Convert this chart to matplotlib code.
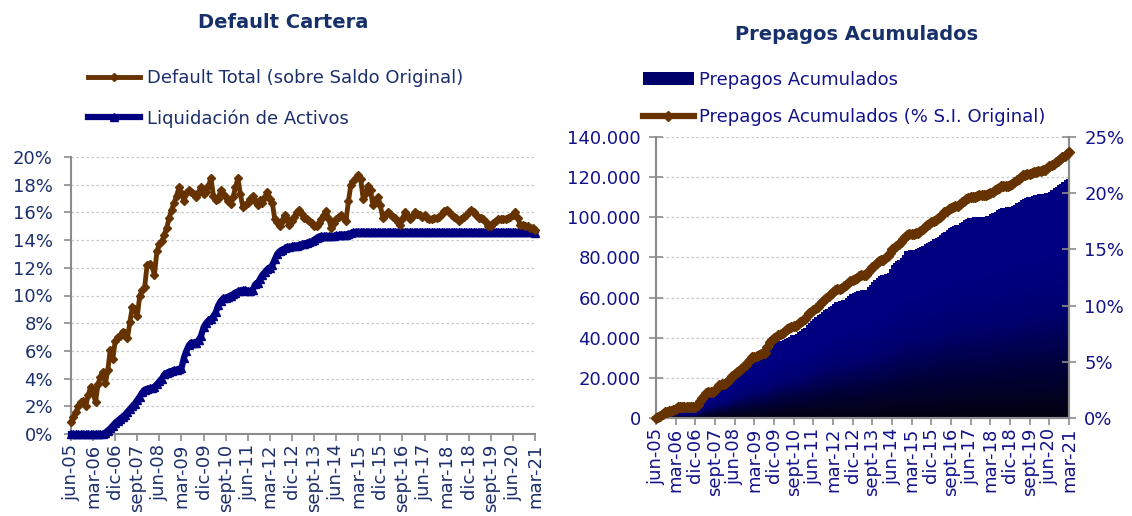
import numpy as np
import matplotlib
matplotlib.use("Agg")
import matplotlib.pyplot as plt
from matplotlib.colors import LinearSegmentedColormap
from matplotlib.patches import Patch
from matplotlib.lines import Line2D

plt.rcParams['font.family'] = ['DejaVu Sans']

# ---------------- data ----------------
tick_labels = ["jun-05", "mar-06", "dic-06", "sept-07", "jun-08", "mar-09", "dic-09",
               "sept-10", "jun-11", "mar-12", "dic-12", "sept-13", "jun-14", "mar-15",
               "dic-15", "sept-16", "jun-17", "mar-18", "dic-18", "sept-19", "jun-20", "mar-21"]

# Default Total (sobre Saldo Original), % monthly jun-05 .. mar-21
default_total = [
    0.9, 1.2, 1.6, 2.0, 2.3, 2.4, 2.0, 2.8, 3.4, 3.0,
    2.3, 3.6, 4.1, 4.5, 3.7, 4.6, 6.1, 5.4, 6.7, 7.0,
    7.1, 7.4, 7.3, 6.9, 8.1, 9.2, 9.0, 8.5, 10.0, 10.4,
    10.6, 12.2, 12.3, 12.1, 11.5, 13.2, 13.7, 13.9, 14.4, 14.9,
    15.6, 16.2, 16.7, 17.2, 17.8, 17.4, 16.8, 17.4, 17.6, 17.5,
    17.3, 17.1, 17.5, 17.8, 17.3, 17.5, 17.9, 18.5, 17.2, 16.9,
    17.0, 17.6, 17.3, 17.1, 16.8, 16.6, 17.1, 17.8, 18.5, 17.3,
    16.4, 16.5, 16.7, 17.0, 17.2, 16.8, 16.5, 16.9, 16.7, 17.1,
    17.5, 17.0, 16.7, 15.5, 15.3, 15.0, 15.4, 15.8, 15.5, 15.1,
    15.4, 15.7, 16.0, 16.2, 15.9, 15.6, 15.5, 15.4, 15.2, 15.0,
    15.0, 15.2, 15.5, 15.8, 16.1, 15.5, 14.9, 15.2, 15.5, 15.7,
    15.8, 15.6, 15.4, 16.8, 18.0, 18.3, 18.5, 18.7, 18.4, 17.0,
    17.4, 17.9, 17.6, 16.5, 16.9, 17.1, 16.5, 15.6, 15.8, 16.0,
    15.9, 15.7, 15.6, 15.3, 15.1, 15.5, 16.0, 15.8, 15.5, 15.7,
    16.0, 15.9, 15.8, 15.7, 15.8, 15.6, 15.5, 15.5, 15.6, 15.6,
    15.7, 15.9, 16.1, 16.2, 16.0, 15.8, 15.7, 15.6, 15.4, 15.5,
    15.7, 15.8, 16.0, 16.2, 16.0, 15.8, 15.6, 15.6, 15.5, 15.3,
    15.0, 15.0, 15.2, 15.4, 15.5, 15.5, 15.5, 15.5, 15.6, 15.7,
    15.8, 16.0, 15.6, 15.1, 15.1, 15.0, 15.0, 14.9, 14.9, 14.7,
]

# Liquidación de Activos, %
liquidacion = [
    0.0, 0.0, 0.0, 0.0, 0.0, 0.0, 0.0, 0.0, 0.0, 0.0,
    0.0, 0.0, 0.0, 0.0, 0.1, 0.25, 0.4, 0.6, 0.8, 0.95,
    1.1, 1.25, 1.4, 1.6, 1.8, 2.0, 2.2, 2.45, 2.7, 3.0,
    3.2, 3.25, 3.3, 3.3, 3.4, 3.6, 3.8, 4.0, 4.3, 4.4,
    4.5, 4.55, 4.6, 4.65, 4.7, 4.75, 5.5, 6.0, 6.4, 6.6,
    6.6, 6.6, 6.8, 7.1, 7.7, 8.0, 8.2, 8.3, 8.5, 8.8,
    9.3, 9.6, 9.8, 9.85, 9.9, 10.0, 10.1, 10.2, 10.3, 10.35,
    10.4, 10.4, 10.35, 10.3, 10.4, 10.8, 10.9, 11.2, 11.5, 11.7,
    11.9, 12.0, 12.2, 12.6, 13.0, 13.2, 13.3, 13.4, 13.5, 13.5,
    13.55, 13.6, 13.6, 13.65, 13.7, 13.75, 13.8, 13.85, 13.9, 14.0,
    14.15, 14.25, 14.3, 14.3, 14.3, 14.3, 14.3, 14.3, 14.35, 14.35,
    14.4, 14.4, 14.4, 14.45, 14.5, 14.55, 14.6, 14.6, 14.6, 14.6,
    14.6, 14.6, 14.6, 14.6, 14.6, 14.6, 14.6, 14.6, 14.6, 14.6,
    14.6, 14.6, 14.6, 14.6, 14.6, 14.6, 14.6, 14.6, 14.6, 14.6,
    14.6, 14.6, 14.6, 14.6, 14.6, 14.6, 14.6, 14.6, 14.6, 14.6,
    14.6, 14.6, 14.6, 14.6, 14.6, 14.6, 14.6, 14.6, 14.6, 14.6,
    14.6, 14.6, 14.6, 14.6, 14.6, 14.6, 14.6, 14.6, 14.6, 14.6,
    14.6, 14.6, 14.6, 14.6, 14.6, 14.6, 14.6, 14.6, 14.6, 14.6,
    14.6, 14.6, 14.6, 14.6, 14.6, 14.6, 14.6, 14.6, 14.6, 14.5,
]

# Prepagos Acumulados (miles)
prepagos_miles = [
    0.3, 0.6, 1.0, 1.4, 1.8, 2.2, 2.5, 2.6, 2.7, 2.8,
    2.9, 2.9, 2.9, 2.9, 3.0, 3.0, 3.0, 3.0, 3.0, 4.3,
    5.8, 7.2, 8.6, 9.8, 10.7, 11.0, 11.4, 12.5, 13.6, 14.2,
    14.7, 15.3, 16.0, 16.8, 17.7, 19.0, 20.2, 21.0, 21.8, 22.6,
    23.5, 24.8, 26.0, 27.0, 27.9, 28.4, 28.8, 28.8, 28.9, 29.5,
    30.1, 32.0, 34.2, 35.5, 36.7, 37.5, 38.3, 38.5, 38.8, 39.4,
    40.0, 40.6, 41.2, 41.4, 41.7, 42.5, 43.3, 44.2, 45.0, 46.2,
    47.4, 48.4, 49.4, 50.3, 51.1, 51.9, 52.7, 53.5, 54.4, 55.2,
    56.0, 56.9, 57.7, 58.0, 58.2, 58.6, 59.0, 59.9, 60.7, 61.5,
    62.3, 62.7, 63.1, 63.4, 63.6, 63.8, 64.0, 65.2, 66.4, 67.7,
    68.9, 69.9, 70.9, 71.0, 71.1, 71.6, 72.2, 74.3, 76.4, 77.2,
    78.0, 78.8, 79.7, 81.4, 83.0, 83.4, 83.8, 83.8, 83.8, 84.2,
    84.6, 85.2, 85.8, 86.6, 87.4, 87.9, 88.4, 89.0, 89.6, 90.4,
    91.2, 92.0, 92.9, 93.7, 94.5, 95.1, 95.7, 96.0, 96.2, 97.0,
    97.9, 98.5, 99.0, 99.4, 99.8, 99.9, 100.0, 100.1, 100.3, 100.3,
    100.3, 100.5, 100.8, 101.4, 102.0, 102.8, 103.6, 104.0, 104.5, 104.7,
    105.0, 105.1, 105.3, 105.7, 106.1, 107.0, 107.8, 108.5, 109.1, 109.5,
    109.9, 110.2, 110.6, 110.9, 111.2, 111.4, 111.6, 111.7, 111.9, 112.3,
    112.7, 113.7, 114.7, 115.3, 116.0, 116.8, 117.7, 118.5, 119.3, 120.2,
]

# Prepagos Acumulados (% S.I. Original)
prepagos_pct = [
    0.0, 0.1, 0.2, 0.4, 0.5, 0.55, 0.6, 0.65, 0.7, 0.8,
    1.0, 1.0, 1.0, 1.0, 1.0, 1.0, 1.0, 1.0, 1.0, 1.2,
    1.5, 1.75, 2.0, 2.2, 2.3, 2.3, 2.35, 2.5, 2.7, 2.9,
    3.0, 3.05, 3.1, 3.3, 3.5, 3.7, 3.9, 4.05, 4.2, 4.35,
    4.5, 4.75, 5.0, 5.2, 5.4, 5.45, 5.5, 5.6, 5.7, 5.75,
    5.8, 6.3, 6.8, 6.95, 7.1, 7.25, 7.4, 7.5, 7.6, 7.75,
    7.9, 8.0, 8.1, 8.15, 8.2, 8.35, 8.5, 8.65, 8.8, 9.05,
    9.3, 9.45, 9.6, 9.75, 9.9, 10.1, 10.3, 10.5, 10.7, 10.85,
    11.0, 11.2, 11.4, 11.45, 11.5, 11.6, 11.7, 11.85, 12.0, 12.15,
    12.3, 12.4, 12.5, 12.6, 12.7, 12.7, 12.75, 13.0, 13.2, 13.4,
    13.6, 13.8, 14.0, 14.05, 14.1, 14.25, 14.4, 14.7, 15.0, 15.15,
    15.3, 15.5, 15.7, 15.9, 16.1, 16.25, 16.4, 16.4, 16.4, 16.45,
    16.5, 16.65, 16.8, 17.0, 17.2, 17.3, 17.4, 17.5, 17.6, 17.75,
    17.9, 18.1, 18.3, 18.45, 18.6, 18.7, 18.8, 18.85, 18.9, 19.05,
    19.2, 19.35, 19.5, 19.6, 19.7, 19.7, 19.7, 19.75, 19.8, 19.8,
    19.8, 19.85, 19.9, 20.0, 20.1, 20.25, 20.4, 20.5, 20.6, 20.6,
    20.6, 20.65, 20.7, 20.85, 21.0, 21.15, 21.3, 21.45, 21.6, 21.65,
    21.7, 21.75, 21.8, 21.85, 21.9, 21.95, 22.0, 22.05, 22.1, 22.25,
    22.4, 22.5, 22.6, 22.75, 22.9, 23.05, 23.2, 23.35, 23.5, 23.7,
]

left_yticks = [0, 2, 4, 6, 8, 10, 12, 14, 16, 18, 20]
right_left_yticks = [0, 20, 40, 60, 80, 100, 120, 140]
right_left_labels = ["0", "20.000", "40.000", "60.000", "80.000", "100.000", "120.000", "140.000"]
right_right_yticks = [0, 5, 10, 15, 20, 25]

# ---------------- style ----------------
BROWN = '#663300'
NAVY = '#000080'
TXT_L = '#1c2f6b'
TXT_R = '#12128a'
AXC = '#8c8c8c'
FS = 13

months = np.arange(len(default_total))
tick_pos = months[::9]

fig = plt.figure(figsize=(11.32, 5.16), dpi=100)
W, H = 1132, 516

def fbox(x0, x1, ytop, ybot):
    return [x0 / W, 1 - ybot / H, (x1 - x0) / W, (ybot - ytop) / H]

# ---------------- left chart ----------------
ax1 = fig.add_axes(fbox(71, 535, 157, 434))
ax1.plot(months, liquidacion, color=NAVY, lw=4.5, marker='^', ms=6, mec=NAVY, mfc=NAVY,
         clip_on=False, zorder=3, label='Liquidación de Activos')
ax1.plot(months, default_total, color=BROWN, lw=3.5, marker='D', ms=4, mec=BROWN, mfc=BROWN,
         clip_on=False, zorder=4, label='Default Total (sobre Saldo Original)')
ax1.set_xlim(0, months[-1])
ax1.set_ylim(0, 20)
ax1.set_yticks(left_yticks)
ax1.set_yticklabels([f"{v}%" for v in left_yticks])
ax1.set_xticks(tick_pos)
ax1.set_xticklabels(tick_labels, rotation=90)
ax1.grid(axis='y', color='#c8c8c8', lw=0.9, ls=(0, (2, 2)))
ax1.set_axisbelow(True)
for s in ['top', 'right']:
    ax1.spines[s].set_visible(False)
for s in ['left', 'bottom']:
    ax1.spines[s].set_color(AXC)
    ax1.spines[s].set_linewidth(1.5)
ax1.tick_params(axis='both', colors=AXC, labelcolor=TXT_L, labelsize=FS, length=5, width=1.2,
                direction='out')
ax1.tick_params(axis='y', pad=8)
ax1.tick_params(axis='x', pad=2)

h_dt = Line2D([], [], color=BROWN, lw=3.5, marker='D', ms=4)
h_la = Line2D([], [], color=NAVY, lw=4.5, marker='^', ms=6)
ax1.legend([h_dt, h_la], ['Default Total (sobre Saldo Original)', 'Liquidación de Activos'],
           loc='upper left', bbox_to_anchor=(88 / W, 1 - 69 / H), bbox_transform=fig.transFigure,
           frameon=False, borderpad=0, borderaxespad=0, handlelength=2.9, handletextpad=0.35,
           labelspacing=1.22, numpoints=1, fontsize=FS, labelcolor=TXT_L)

fig.text(283 / W, 1 - 22 / H, 'Default Cartera', ha='center', va='center',
         fontsize=14, fontweight='bold', color='#17306a')

# ---------------- right chart ----------------
ax2 = fig.add_axes(fbox(656, 1069, 137, 418))
ax3 = ax2.twinx()

ax2.bar(months, prepagos_miles, width=1.0, color=NAVY, linewidth=0, zorder=2)
hgt = np.array(prepagos_miles)
yy = np.linspace(0, 140, 700)
frac = yy[:, None] / hgt[None, :]
img = np.where(frac <= 1.0, np.clip(frac / 0.7, 0, 1), np.nan)
cmap = LinearSegmentedColormap.from_list('grad', ['#020210', '#00003c', '#000070', NAVY])
cmap.set_bad(alpha=0)
ax2.imshow(img, extent=(-0.5, months[-1] + 0.5, 0, 140), origin='lower', aspect='auto',
           cmap=cmap, vmin=0, vmax=1, interpolation='nearest', zorder=2.5)
ax2.set_xlim(0, months[-1])
ax2.set_ylim(0, 140)
ax2.set_yticks(right_left_yticks)
ax2.set_yticklabels(right_left_labels)
ax2.set_xticks(tick_pos)
ax2.set_xticklabels(tick_labels, rotation=90)
ax2.grid(axis='y', color='#c8c8c8', lw=0.9, ls=(0, (2, 2)))
ax2.set_axisbelow(True)

ax3.plot(months, prepagos_pct, color=BROWN, lw=4.5, marker='D', ms=5, mec=BROWN, mfc=BROWN,
         clip_on=False, zorder=5)
ax3.set_ylim(0, 25)
ax3.set_yticks(right_right_yticks)
ax3.set_yticklabels([f"{v}%" for v in right_right_yticks])

for a in (ax2, ax3):
    a.spines['top'].set_visible(False)
    for s in ['left', 'right', 'bottom']:
        a.spines[s].set_color(AXC)
        a.spines[s].set_linewidth(1.5)
ax2.tick_params(axis='y', colors=AXC, labelcolor=TXT_R, labelsize=FS, length=10, width=1.2,
                direction='inout', pad=6)
ax2.tick_params(axis='x', colors=AXC, labelcolor=TXT_R, labelsize=FS, length=5, width=1.2,
                direction='out', pad=2)
ax3.tick_params(axis='y', colors=AXC, labelcolor=TXT_R, labelsize=FS, length=10, width=1.2,
                direction='inout', pad=6)

h_bar = Patch(facecolor='#00006a', edgecolor='none')
h_pct = Line2D([], [], color=BROWN, lw=4.5, marker='D', ms=5)
ax2.legend([h_bar, h_pct], ['Prepagos Acumulados', 'Prepagos Acumulados (% S.I. Original)'],
           loc='upper left', bbox_to_anchor=(643 / W, 1 - 71 / H), bbox_transform=fig.transFigure,
           frameon=False, borderpad=0, borderaxespad=0, handlelength=2.8, handletextpad=0.3,
           labelspacing=1.08, numpoints=1, fontsize=FS, labelcolor=TXT_R)

fig.text(857 / W, 1 - 35 / H, 'Prepagos Acumulados', ha='center', va='center',
         fontsize=14, fontweight='bold', color='#17306a')

fig.savefig('out.png', dpi=100)
